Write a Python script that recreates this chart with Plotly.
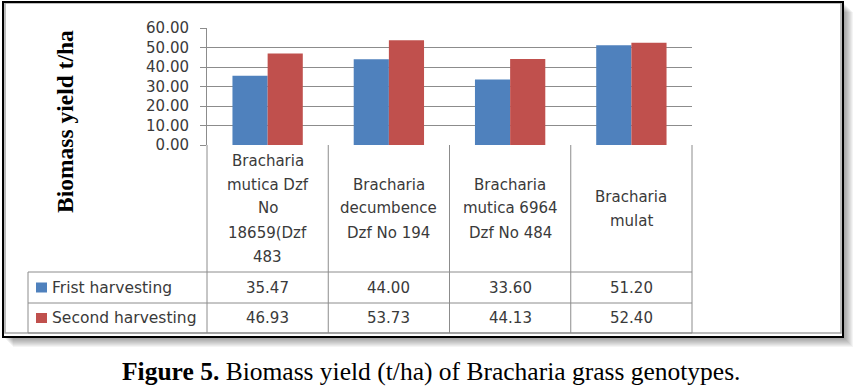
import textwrap
import plotly.graph_objects as go

# ---- data ----
categories = [
    "Bracharia mutica Dzf No 18659(Dzf 483",
    "Bracharia decumbence Dzf No 194",
    "Bracharia mutica 6964 Dzf No 484",
    "Bracharia mulat",
]
series_names = ["Frist harvesting", "Second harvesting"]
first_harvest = [35.47, 44.00, 33.60, 51.20]
second_harvest = [46.93, 53.73, 44.13, 52.40]
y_ticks = [0, 10, 20, 30, 40, 50, 60]
y_title = "Biomass yield t/ha"
caption = "<b>Figure 5.</b> Biomass yield (t/ha) of Bracharia grass genotypes."

colors = ["#4F81BD", "#C0504D"]
text_color = "#3a3a3a"
grid_color = "#8c8c8c"
W, H = 855, 391
PL, PR, PT, PB = 207, 692, 28, 145  # plot area in pixels


def px(x):
    return (x - PL) / (PR - PL)


def py(y):
    return (PB - y) / (PB - PT)


fig = go.Figure()
for name, vals, c in zip(series_names, [first_harvest, second_harvest], colors):
    fig.add_trace(go.Bar(x=categories, y=vals, name=name, marker=dict(color=c, line=dict(width=0)),
                         showlegend=False))

shapes = []
# shadow
for k in range(1, 11):
    shapes.append(dict(type="rect", xref="paper", yref="paper", layer="below",
                       x0=px(3 + k), x1=px(843 + k), y0=py(337 + k), y1=py(2 + k),
                       line=dict(width=0), fillcolor="rgba(0,0,0,0.045)"))
shapes.append(dict(type="rect", xref="paper", yref="paper", layer="below",
                   x0=px(3), x1=px(843), y0=py(337), y1=py(2),
                   line=dict(width=0), fillcolor="white"))
# inner chart-area border (gray)
shapes.append(dict(type="rect", xref="paper", yref="paper", layer="below",
                   x0=px(5), x1=px(841), y0=py(333), y1=py(3),
                   line=dict(width=1.5, color="#a6a6a6"), fillcolor="rgba(0,0,0,0)"))
# outer black frame
shapes.append(dict(type="rect", xref="paper", yref="paper", layer="above",
                   x0=px(3), x1=px(843), y0=py(337), y1=py(2),
                   line=dict(width=2, color="black"), fillcolor="rgba(0,0,0,0)"))

tline = dict(width=1, color=grid_color)
row_tops = [272, 303, 333]
n = len(categories)
# vertical table lines
for i in range(n + 1):
    shapes.append(dict(type="line", xref="paper", yref="paper", x0=i / n, x1=i / n,
                       y0=py(145), y1=py(333), line=tline))
shapes.append(dict(type="line", xref="paper", yref="paper", x0=px(28), x1=px(28),
                   y0=py(272), y1=py(333), line=tline))
for yy in row_tops:
    shapes.append(dict(type="line", xref="paper", yref="paper", x0=px(28), x1=1,
                       y0=py(yy), y1=py(yy), line=tline))

annotations = []
font = dict(family="DejaVu Sans", size=15, color=text_color)
# category header cells
for i, cat in enumerate(categories):
    lines = textwrap.wrap(cat, width=11)
    center = 208.5
    for j, ln in enumerate(lines):
        yy = center + (j - (len(lines) - 1) / 2) * 24
        annotations.append(dict(xref="paper", yref="paper", x=(i + 0.5) / n, y=py(yy), text=ln,
                                showarrow=False, xanchor="center", yanchor="middle", font=font))
# data rows
row_centers = [287.5, 318]
for r, (name, vals, c) in enumerate(zip(series_names, [first_harvest, second_harvest], colors)):
    yc = row_centers[r]
    shapes.append(dict(type="rect", xref="paper", yref="paper", x0=px(36), x1=px(47),
                       y0=py(yc + 5), y1=py(yc - 5), line=dict(width=0), fillcolor=c))
    annotations.append(dict(xref="paper", yref="paper", x=px(50), y=py(yc), text=name,
                            showarrow=False, xanchor="left", yanchor="middle",
                            font=dict(family="DejaVu Sans", size=15.5, color=text_color)))
    for i, v in enumerate(vals):
        annotations.append(dict(xref="paper", yref="paper", x=(i + 0.5) / n, y=py(yc),
                                text=f"{v:.2f}", showarrow=False, xanchor="center",
                                yanchor="middle", font=font))
# y title
annotations.append(dict(xref="paper", yref="paper", x=px(65), y=py(122), text="<b>" + y_title + "</b>",
                        textangle=-90, showarrow=False, xanchor="center", yanchor="middle",
                        font=dict(family="Liberation Serif", size=23.5, color="black")))
# caption
annotations.append(dict(xref="paper", yref="paper", x=px(431), y=py(371), text=caption,
                        showarrow=False, xanchor="center", yanchor="middle",
                        font=dict(family="Liberation Serif", size=25.5, color="black")))

fig.update_layout(
    width=W, height=H,
    margin=dict(l=PL, r=W - PR, t=PT, b=H - PB, pad=0),
    paper_bgcolor="white", plot_bgcolor="white",
    barmode="group", bargap=0.42, bargroupgap=0,
    shapes=shapes, annotations=annotations,
    xaxis=dict(showticklabels=False, showgrid=False, zeroline=False, showline=False,
               ticks="", range=[-0.5, n - 0.5]),
    yaxis=dict(range=[0, 60], tickvals=y_ticks, tickformat=".2f", showgrid=True,
               gridcolor=grid_color, gridwidth=1, zeroline=False, showline=True,
               linecolor=grid_color, linewidth=1, ticks="outside", ticklen=6,
               tickcolor=grid_color, ticklabelstandoff=8,
               tickfont=dict(family="DejaVu Sans", size=15, color=text_color)),
)
fig.write_html("out.html", config={"displayModeBar": False},
               post_script="document.body.style.margin='0px';")
